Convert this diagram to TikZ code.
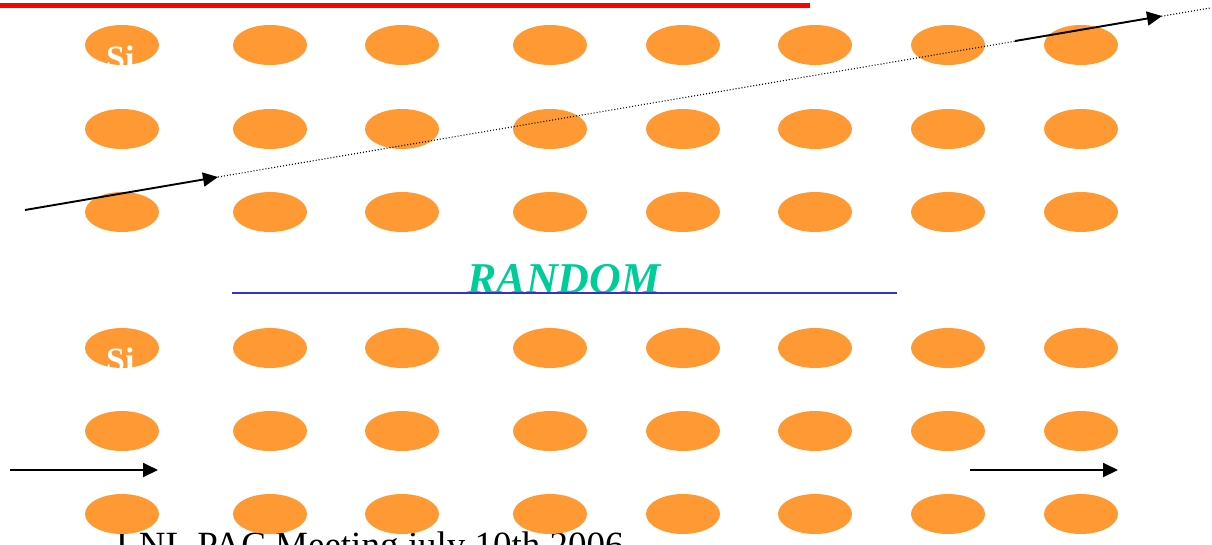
\documentclass[tikz,border=0pt]{standalone}
\usepackage{fontspec}
\setmainfont{Liberation Serif}
\usetikzlibrary{arrows.meta,shapes.geometric}
\definecolor{siorange}{RGB}{255,153,51}
\definecolor{randgreen}{RGB}{0,204,153}
\definecolor{sepblue}{RGB}{51,51,204}

\begin{document}
\begin{tikzpicture}[x=1pt, y=-1pt,
    atom/.style={ellipse, fill=siorange, minimum width=74pt, minimum height=40pt, inner sep=0pt},
    silabel/.style={font=\bfseries\fontsize{34}{34}\selectfont, text=white, inner sep=0pt, anchor=base west},
    track/.style={-{Triangle[length=15pt,width=14pt]}, line width=1.9pt},
    trace/.style={line width=1.1pt, dash pattern=on 1pt off 2pt}]
  \useasboundingbox (0,0) rectangle (1212,544);
  \clip (0,0) rectangle (1212,544);
  % footer (behind the lattice)
  \node[anchor=base west, inner sep=0pt, font=\fontsize{37}{40}\selectfont] (footer) at (116,557)
       {LNL PAC Meeting july 10th 2006};
  % title rule
  \coordinate (t0) at (0,5);
  \coordinate (t1) at (810,5);
  \draw[red, line width=5pt] (t0) -- (t1);
  % upper lattice (channelling) and lower lattice (random)
  \foreach \rw/\yy in {1/45,2/129,3/212}
    \foreach \cl/\xx in {1/122,2/270,3/402,4/550,5/683,6/815,7/948,8/1081}
      \node[atom] (u\rw\cl) at (\xx,\yy) {};
  \foreach \rw/\yy in {1/348,2/431,3/514}
    \foreach \cl/\xx in {1/122,2/270,3/402,4/550,5/683,6/815,7/948,8/1081}
      \node[atom] (l\rw\cl) at (\xx,\yy) {};
  \node[silabel] (siu) at (106,69) {Si};
  \node[silabel] (sil) at (106,371) {Si};
  % separator
  \node[anchor=base, inner sep=0pt, text=randgreen, font=\bfseries\itshape\fontsize{44}{44}\selectfont]
       (random) at (564,293) {RANDOM};
  \coordinate (b0) at (232,293);
  \coordinate (b1) at (897,293);
  \draw[sepblue, line width=1.6pt] (b0) -- (b1);
  % tilted trajectory
  \coordinate (in0) at (25,210);
  \coordinate (in1) at (218,177);
  \coordinate (out0) at (1015,41);
  \coordinate (out1) at (1162,16);
  \coordinate (far) at (1210,8);
  \draw[trace] (in1) -- (far);
  \draw[track] (in0) -- (in1);
  \draw[track] (out0) -- (out1);
  % straight trajectory
  \coordinate (hin0) at (10,470);
  \coordinate (hin1) at (158,470);
  \coordinate (hout0) at (970,470);
  \coordinate (hout1) at (1118,470);
  \draw[track] (hin0) -- (hin1);
  \draw[track] (hout0) -- (hout1);
\end{tikzpicture}
\end{document}
